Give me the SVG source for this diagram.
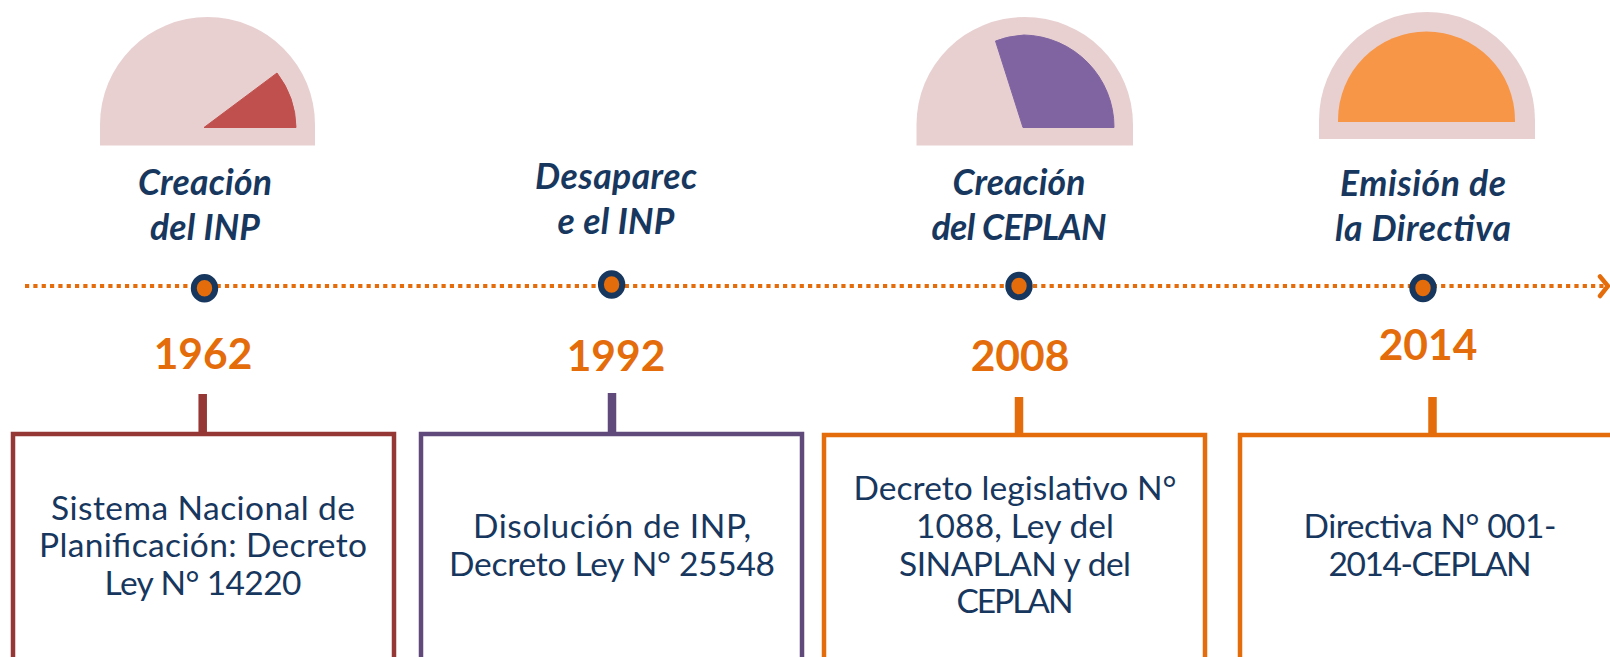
<svg xmlns="http://www.w3.org/2000/svg" width="1610" height="657" viewBox="0 0 1610 657">
<style>
.t{font-family:"Lato","Liberation Sans",sans-serif;font-style:italic;font-weight:700;font-size:35.500px;fill:#17375e;text-anchor:middle}
.y{font-family:"Lato","Liberation Sans",sans-serif;font-weight:700;font-size:42.500px;fill:#e46c0a;text-anchor:middle}
.b{font-family:"Lato","Liberation Sans",sans-serif;font-size:33.500px;fill:#17375e;text-anchor:middle}
.g{fill:#e8d0d1}
.box{fill:#fff;stroke-width:4.500}
.d{fill:#e46c0a;stroke:#17375e;stroke-width:6}
.tick{stroke-width:8.500;fill:none}
</style>
<rect width="1610" height="657" fill="#fff"/>
<g id="connectors">
<path d="M25 286H1604" fill="none" stroke="#e46c0a" stroke-width="4" stroke-dasharray="4.200 4.130"/>
<path d="M1600 276.500L1608 286L1600 296" fill="none" stroke="#e46c0a" stroke-width="4.500" stroke-linecap="round"/>
<path class="tick" d="M202.700 394V433" stroke="#953735"/>
<path class="tick" d="M612 393V432" stroke="#604a7b"/>
<path class="tick" d="M1019 397V435" stroke="#e46c0a"/>
<path class="tick" d="M1432.500 397V435" stroke="#e46c0a"/>
</g>
<g id="n1">
<path class="g" d="M100 145.500V124.500A107.500 107.500 0 0 1 315 124.500V145.500Z"/>
<path d="M204 127.500L277 73A92 92 0 0 1 296 127.500Z" fill="#c0504d" stroke="#c0504d" stroke-linejoin="round"/>
<ellipse class="d" cx="204.500" cy="288.300" rx="10.700" ry="11.300"/>
<text class="t" x="205" y="195" textLength="134">Creación</text><text class="t" x="205" y="239.500" textLength="110">del INP</text>
<text class="y" x="203" y="369">1962</text>
<rect class="box" x="13" y="434" width="381" height="240" stroke="#953735"/>
<text class="b" x="203" y="519.500" textLength="304">Sistema Nacional de</text><text class="b" x="203" y="557" textLength="328">Planificación: Decreto</text><text class="b" x="203" y="594.500" textLength="197">Ley N° 14220</text>
</g>
<g id="n2">
<ellipse class="d" cx="611.600" cy="284.500" rx="10.700" ry="11.300"/>
<text class="t" x="616" y="189" textLength="162">Desaparec</text><text class="t" x="616" y="234" textLength="117">e el INP</text>
<text class="y" x="616" y="370.500">1992</text>
<rect class="box" x="421" y="434" width="381" height="240" stroke="#604a7b"/>
<text class="b" x="612" y="538" textLength="278">Disolución de INP,</text><text class="b" x="612" y="575.500" textLength="326">Decreto Ley N° 25548</text>
</g>
<g id="n3">
<path class="g" d="M916.500 145.500V124.500A108.250 107.500 0 0 1 1133 124.500V145.500Z"/>
<path d="M995.500 41Q1008 36 1024 35A92 92 0 0 1 1114 127.500H1023Z" fill="#8064a2" stroke="#8064a2" stroke-linejoin="round"/>
<ellipse class="d" cx="1019" cy="286" rx="10.700" ry="11.300"/>
<text class="t" x="1019" y="195" textLength="133">Creación</text><text class="t" x="1019" y="240" textLength="175">del CEPLAN</text>
<text class="y" x="1020" y="371">2008</text>
<rect class="box" x="824" y="435" width="381" height="240" stroke="#e46c0a"/>
<text class="b" x="1015" y="500" textLength="323">Decreto legislativo N°</text><text class="b" x="1015" y="538" textLength="198">1088, Ley del</text><text class="b" x="1015" y="575.500" textLength="232">SINAPLAN y del</text><text class="b" x="1015" y="613" textLength="117">CEPLAN</text>
</g>
<g id="n4">
<path class="g" d="M1319 139V120A108 108 0 0 1 1535 120V139Z"/>
<path d="M1338 122V120A88.500 88.500 0 0 1 1515 120V122Z" fill="#f79646"/>
<ellipse class="d" cx="1423" cy="288" rx="10.700" ry="11.300"/>
<text class="t" x="1423" y="196" textLength="166">Emisión de</text><text class="t" x="1423" y="240.500" textLength="176">la Directiva</text>
<text class="y" x="1428" y="360">2014</text>
<rect class="box" x="1240" y="435" width="400" height="240" stroke="#e46c0a"/>
<text class="b" x="1430" y="538" textLength="253">Directiva N° 001-</text><text class="b" x="1430" y="575.500" textLength="203">2014-CEPLAN</text>
</g>
</svg>
